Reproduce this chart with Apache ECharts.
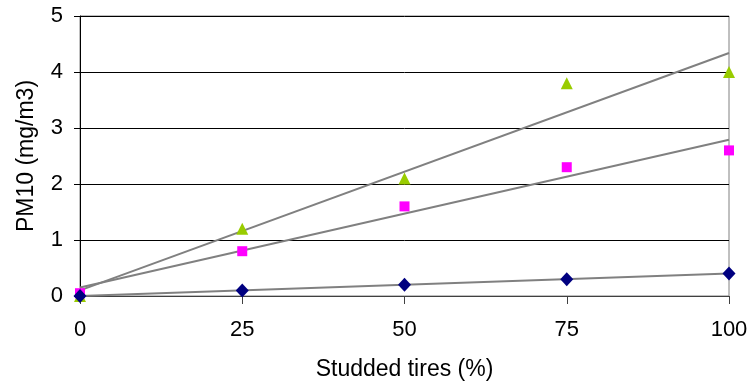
<!DOCTYPE html>
<html>
<head>
<meta charset="utf-8">
<script src="https://cdn.jsdelivr.net/npm/echarts@6/dist/echarts.min.js"></script>
<style>
    html, body { margin: 0; padding: 0; background: #fff; }
    #chart { width: 754px; height: 388px; }
</style>
</head>
<body>
<div id="chart"></div>
<script>
    // studded tires share (%)
    var studded = [0, 25, 50, 75, 100];
    // PM10 (mg/m3) per series
    var triangles = [0, 1.2, 2.1, 3.8, 4.0];
    var squares = [0.05, 0.8, 1.6, 2.3, 2.6];
    var diamonds = [0, 0.1, 0.2, 0.3, 0.4];
    var yTicks = [0, 1, 2, 3, 4, 5];
    var xTicks = [0, 25, 50, 75, 100];

    function pairs(ys) {
        return studded.map(function (x, i) { return [x, ys[i]]; });
    }

    // linear trendline (least squares), drawn across the x range
    function trend(ys) {
        var n = studded.length, mx = 0, my = 0, sxy = 0, sxx = 0;
        for (var i = 0; i < n; i++) { mx += studded[i] / n; my += ys[i] / n; }
        for (var j = 0; j < n; j++) {
            sxy += (studded[j] - mx) * (ys[j] - my);
            sxx += (studded[j] - mx) * (studded[j] - mx);
        }
        var b = sxy / sxx, a = my - b * mx;
        var x0 = xTicks[0], x1 = xTicks[xTicks.length - 1];
        return [[x0, a + b * x0], [x1, a + b * x1]];
    }

    function trendSeries(ys) {
        return {
            type: 'line',
            data: trend(ys),
            symbol: 'none',
            silent: true,
            lineStyle: { color: '#808080', width: 2 },
            z: 2
        };
    }

    function scatter(ys, symbol, size, color) {
        return {
            type: 'scatter',
            data: pairs(ys),
            symbol: symbol,
            symbolSize: size,
            itemStyle: { color: color, opacity: 1 },
            z: 3
        };
    }

    var myChart = echarts.init(document.getElementById('chart'));
    var font = 'Liberation Sans, Arial, sans-serif';
    myChart.setOption({
        animation: false,
        grid: {
            left: 80, right: 25, top: 16, bottom: 92,
            show: true, borderColor: '#808080', borderWidth: 1
        },
        xAxis: {
            type: 'value',
            min: xTicks[0], max: xTicks[xTicks.length - 1], interval: 25,
            name: 'Studded tires (%)',
            nameLocation: 'middle',
            nameGap: 62,
            nameTextStyle: { fontFamily: font, fontSize: 23, color: '#000' },
            axisLine: { lineStyle: { color: '#404040', width: 1 } },
            axisTick: { show: true, length: 8, lineStyle: { color: '#404040' } },
            axisLabel: { fontFamily: font, fontSize: 22, color: '#000', margin: 23 },
            splitLine: { show: false }
        },
        yAxis: {
            type: 'value',
            min: yTicks[0], max: yTicks[yTicks.length - 1], interval: 1,
            name: 'PM10 (mg/m3)',
            nameLocation: 'middle',
            nameGap: 42,
            nameTextStyle: { fontFamily: font, fontSize: 23, color: '#000' },
            axisLine: { show: true, lineStyle: { color: '#000', width: 1 } },
            axisTick: { show: true, length: 6, lineStyle: { color: '#000' } },
            axisLabel: { fontFamily: font, fontSize: 22, color: '#000', margin: 17 },
            splitLine: { show: true, lineStyle: { color: '#000', width: 1 } }
        },
        series: [
            trendSeries(triangles),
            trendSeries(squares),
            trendSeries(diamonds),
            scatter(triangles, 'triangle', 12, '#99CC00'),
            scatter(squares, 'rect', 10, '#FF00FF'),
            scatter(diamonds, 'diamond', [13, 14], '#000080')
        ]
    });
</script>
</body>
</html>
